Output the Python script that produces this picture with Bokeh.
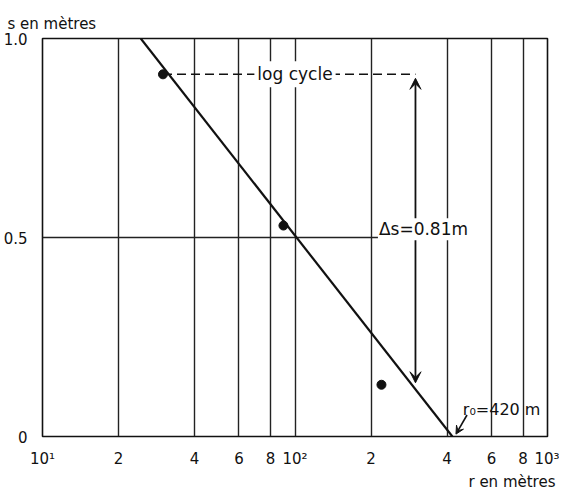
from bokeh.plotting import figure
from bokeh.models import Range1d, FixedTicker, Label, Arrow, VeeHead, Title
from bokeh.embed import file_html
from bokeh.resources import INLINE

# ---- data ----
r_points = [30, 90, 220]
s_points = [0.91, 0.53, 0.13]

line_r = [24.5, 420]
line_s = [1.0, 0.0]

cycle_r = [30, 300]
cycle_s = [0.91, 0.91]

half_r = [10, 400]
half_s = [0.5, 0.5]

x_ticks = [10, 20, 40, 60, 80, 100, 200, 400, 600, 800, 1000]
x_tick_labels = ["10\u00b9", "2", "4", "6", "8", "10\u00b2", "2", "4", "6", "8", "10\u00b3"]

y_ticks = [0, 0.5, 1.0]
y_tick_labels = ["0", "0.5", "1.0"]

arrow_r = 300
arrow_s = [0.135, 0.90]

FONT = "DejaVu Sans"
INK = "#111111"

p = figure(width=559, height=490, x_axis_type="log",
           x_range=Range1d(10, 1000), y_range=Range1d(0, 1),
           output_backend="svg", toolbar_location=None,
           min_border_left=35, min_border_right=12,
           min_border_top=38, min_border_bottom=46)
p.background_fill_color = "white"
p.border_fill_color = "white"
p.outline_line_color = INK
p.outline_line_width = 1.6

p.title.text = "s en mètres"
p.title.align = "left"
p.title.offset = -35
p.title.standoff = 12
p.title.text_font = FONT
p.title.text_font_size = "15px"
p.title.text_font_style = "normal"
p.title.text_color = INK

p.xaxis.ticker = FixedTicker(ticks=x_ticks)
p.xaxis.major_label_overrides = {t: l for t, l in zip(x_ticks, x_tick_labels)}
p.yaxis.ticker = FixedTicker(ticks=y_ticks)
p.yaxis.major_label_overrides = {t: l for t, l in zip(y_ticks, y_tick_labels)}
for ax in (p.xaxis[0], p.yaxis[0]):
    ax.axis_line_color = None
    ax.major_tick_line_color = None
    ax.minor_tick_line_color = None
    ax.major_label_text_font = FONT
    ax.major_label_text_font_size = "15px"
    ax.major_label_text_color = INK
p.xaxis.major_label_standoff = 7
p.yaxis.major_label_standoff = 9

p.add_layout(Title(text="r en mètres", align="right", offset=-8, standoff=0,
                   text_font=FONT, text_font_size="15px", text_font_style="normal",
                   text_color=INK), "below")

p.xgrid.ticker = FixedTicker(ticks=x_ticks)
p.xgrid.grid_line_color = "#222222"
p.xgrid.grid_line_width = 1.4
p.ygrid.grid_line_color = None

# half line
p.line(half_r, half_s, line_color="#222222", line_width=1.5)
# fitted line
p.line(line_r, line_s, line_color=INK, line_width=2.2)
# log cycle dashed line
p.line(cycle_r, cycle_s, line_color=INK, line_width=1.6, line_dash="9 5")
# points
p.scatter(r_points, s_points, size=9, color=INK)

# log cycle label
p.add_layout(Label(x=100, y=0.91, text="log cycle", text_font=FONT,
                   text_font_size="17px", text_color=INK,
                   text_baseline="middle", text_align="center",
                   background_fill_color="white", padding=3))

# delta s arrow
p.add_layout(Arrow(x_start=arrow_r, y_start=arrow_s[0], x_end=arrow_r, y_end=arrow_s[1],
                   line_color=INK, line_width=1.8,
                   start=VeeHead(size=11, fill_color=INK, line_color=INK, line_width=1),
                   end=VeeHead(size=11, fill_color=INK, line_color=INK, line_width=1)))
p.add_layout(Label(x=213, y=0.521, text="Δs=0.81m", text_font=FONT,
                   text_font_size="17px", text_color=INK,
                   text_baseline="alphabetic", text_align="left",
                   background_fill_color="white", padding=1))

# r0 arrow & label
p.add_layout(Arrow(x_start=480, y_start=0.054, x_end=434, y_end=0.006,
                   line_color=INK, line_width=1.6,
                   end=VeeHead(size=8, fill_color=INK, line_color=INK, line_width=1)))
p.add_layout(Label(x=462, y=0.069, text="r\u2080=420 m", text_font=FONT,
                   text_font_size="16px", text_color=INK,
                   text_baseline="alphabetic", text_align="left"))

open("out.html", "w").write(file_html(p, INLINE))
